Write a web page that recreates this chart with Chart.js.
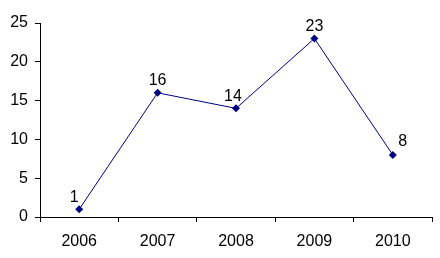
<!DOCTYPE html>
<html><head><meta charset="utf-8">
<script src="https://cdn.jsdelivr.net/npm/chart.js@4/dist/chart.umd.min.js"></script>
<style>html,body{margin:0;padding:0;background:#fff}#wrap{width:440px;height:258px}</style>
</head><body><div id="wrap"><canvas id="c" width="440" height="258"></canvas></div>
<script>
const categories = ["2006","2007","2008","2009","2010"];
const values = [1,16,14,23,8];
const yTicks = [0,5,10,15,20,25];

const FONT = {family:"'Liberation Sans', Arial, sans-serif", size:16};
const labelOffsets = [[-5,-12],[0,-12],[-3,-12],[0,-12],[10,-13]];

const dataLabels = {
  id:'dataLabels',
  afterDatasetsDraw(chart){
    const ctx = chart.ctx;
    const meta = chart.getDatasetMeta(0);
    ctx.save();
    ctx.font = FONT.size + "px " + FONT.family;
    ctx.fillStyle = '#000';
    ctx.textAlign = 'center';
    ctx.textBaseline = 'middle';
    meta.data.forEach((pt,i)=>{
      const o = labelOffsets[i];
      ctx.fillText(String(values[i]), pt.x + o[0], pt.y + o[1]);
    });
    ctx.restore();
  }
};

new Chart(document.getElementById('c'), {
  type:'line',
  data:{labels:categories, datasets:[{
    data:values, borderColor:'#000080', backgroundColor:'#000080', borderWidth:1,
    pointStyle:'rectRot', pointRadius:4, pointBorderWidth:0, tension:0, fill:false
  }]},
  options:{
    responsive:false, animation:false,
    layout:{padding:{left:0,top:23,right:8,bottom:0}},
    plugins:{legend:{display:false}, tooltip:{enabled:false}},
    scales:{
      x:{
        offset:true,
        grid:{offset:true, drawOnChartArea:false, drawTicks:true, tickLength:5, color:'#000'},
        border:{color:'#000', width:1},
        ticks:{font:FONT, color:'#000', padding:10, maxRotation:0},
        afterFit(s){ s.height = 41; }
      },
      y:{
        min:0, max:25,
        afterBuildTicks(s){ s.ticks = yTicks.map(v=>({value:v})); },
        grid:{drawOnChartArea:false, drawTicks:true, tickLength:5, color:'#000'},
        border:{color:'#000', width:1},
        ticks:{font:FONT, color:'#000', padding:7},
        afterFit(s){ s.width = 40; }
      }
    }
  },
  plugins:[dataLabels]
});
</script></body></html>
